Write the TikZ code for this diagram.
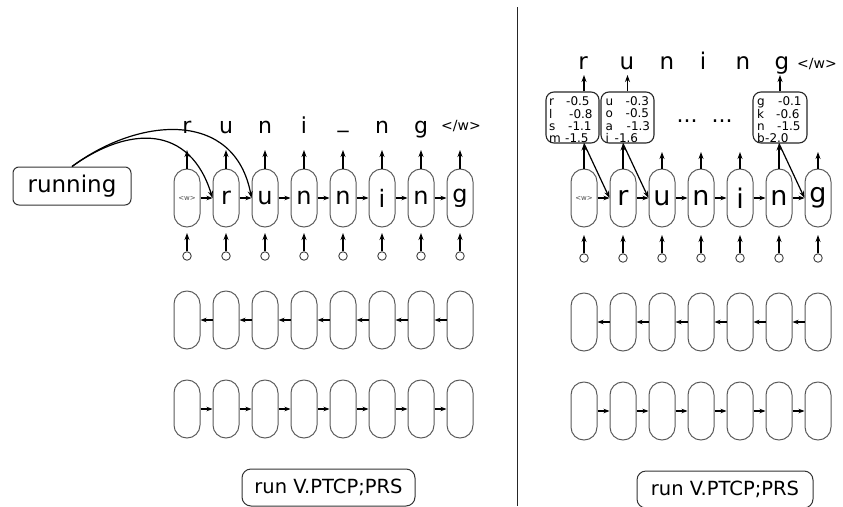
\documentclass[tikz,border=0pt]{standalone}
\usepackage{fontspec}
\setmainfont{DejaVu Sans}
\usetikzlibrary{arrows.meta,calc}
\newcommand{\pbf}{\fontsize{12}{11.2}\selectfont}
\begin{document}
\begin{tikzpicture}[x=1pt,y=-1pt,
  cell/.style={draw=black!65, line width=1pt, rounded corners=12.9pt, minimum width=26pt, minimum height=58pt, inner sep=0pt, font=\fontsize{24}{26}\selectfont},
  rcell/.style={cell, font=\fontsize{27}{30}\selectfont},
  arr/.style={-{Stealth[length=7pt,width=5pt]}, line width=1.2pt},
  harr/.style={-{Stealth[length=6pt,width=4.5pt]}, line width=1.2pt},
  inp/.style={circle, draw=black!75, line width=0.9pt, minimum size=8.5pt, inner sep=0pt},
  outl/.style={font=\fontsize{22}{26}\selectfont, anchor=base, inner sep=0pt},
  routl/.style={font=\fontsize{23}{26}\selectfont, anchor=base, inner sep=0pt},
  endl/.style={font=\fontsize{14}{16}\selectfont, anchor=base, inner sep=0pt},
  lbox/.style={draw=black!80, line width=1pt, rounded corners=8pt, inner sep=0pt},
  probbox/.style={draw=black!85, line width=1.1pt, rounded corners=8pt, minimum height=51pt, inner sep=0pt},
  probtxt/.style={anchor=north west, inner sep=0pt}
]
\useasboundingbox (0,0) rectangle (843,506);

% ---------- divider ----------
\draw[line width=1.5pt, black!85] (517.5,7) -- (517.5,506);

% ---------- helper coordinates ----------
\coordinate (ltip) at (0,150);
\coordinate (lin) at (0,233);
\coordinate (rtip) at (0,152);
\coordinate (rin) at (0,235);
\coordinate (rbtip) at (0,75);

% ================= LEFT PANEL =================
\node[cell] (L0) at (187,198) {\fontsize{7}{8}\selectfont\color{black!70}<w>};
\foreach \t [count=\i] in {r,u,n,n,i,n,g}
  \node[cell] (L\i) at ({187+39*\i},198) {\t};
\foreach \i in {0,...,6}{\pgfmathtruncatemacro\j{\i+1}
  \draw[harr] (L\i.east) -- (L\j.west);}
\foreach \i in {0,...,7}{
  \draw[arr] (L\i.north) -- (L\i.north |- ltip);
  \node[inp] (cL\i) at ({187+39*\i},256) {};
  \draw[arr] (cL\i.north) -- (cL\i.north |- lin);}
% output letters
\foreach \t [count=\i from 0] in {r,u,n,i,\raisebox{6pt}{\_},n,g}
  \node[outl] (oL\i) at ({187+39*\i},133) {\t};
\node[endl] (oL7) at (461,130) {</w>};

% middle row (backward)
\foreach \i in {0,...,7}
  \node[cell] (M\i) at ({187+39*\i},320) {};
\foreach \i in {0,...,6}{\pgfmathtruncatemacro\j{\i+1}
  \draw[harr] (M\j.west) -- (M\i.east);}
% bottom row (forward)
\foreach \i in {0,...,7}
  \node[cell] (N\i) at ({187+39*\i},409) {};
\foreach \i in {0,...,6}{\pgfmathtruncatemacro\j{\i+1}
  \draw[harr] (N\i.east) -- (N\j.west);}

% running box and copy arrows
\node[lbox, rounded corners=6pt, minimum width=118pt, minimum height=38pt, font=\fontsize{23}{26}\selectfont] (running) at (72,186) {running};
\draw[arr] (running.north) .. controls (130,125) and (190,125) .. (L1.west);
\draw[arr] (running.north) .. controls (140,116) and (235,110) .. (L2.west);

\node[lbox, rounded corners=9pt, minimum width=173pt, minimum height=37pt, font=\fontsize{19.5}{22}\selectfont] (tagL) at (328.5,487.5) {run V.PTCP;PRS};

% ================= RIGHT PANEL =================
\node[rcell] (R0) at (584,198) {\fontsize{7}{8}\selectfont\color{black!70}<w>};
\foreach \t [count=\i] in {r,u,n,i,n,g}
  \node[rcell] (R\i) at ({584+39*\i},198) {\t};
\foreach \i in {0,...,5}{\pgfmathtruncatemacro\j{\i+1}
  \draw[harr] (R\i.east) -- (R\j.west);}
\foreach \i in {0,...,6}{
  \node[inp] (cR\i) at ({584+39*\i},258) {};
  \draw[arr] (cR\i.north) -- (cR\i.north |- rin);}

% probability boxes
\node[probbox, minimum width=53pt] (B1) at (572.5,117.5) {};
\node[probbox, minimum width=53pt] (B2) at (627.5,117.5) {};
\node[probbox, minimum width=54pt] (B3) at (780,117.5) {};
\node[probtxt] (T1) at (549,96.5)
  {\pbf\begin{tabular}{@{}l@{}}\makebox[17pt][l]{r}-0.5\\\makebox[20pt][l]{l}-0.8\\\makebox[19pt][l]{s}-1.1\\\makebox[16pt][l]{m}-1.5\end{tabular}};
\node[probtxt] (T2) at (605.5,96.5)
  {\pbf\begin{tabular}{@{}l@{}}\makebox[20pt][l]{u}-0.3\\\makebox[20pt][l]{o}-0.5\\\makebox[21pt][l]{a}-1.3\\\makebox[9pt][l]{i}-1.6\end{tabular}};
\node[probtxt] (T3) at (757,96.5)
  {\pbf\begin{tabular}{@{}l@{}}\makebox[21pt][l]{g}-0.1\\\makebox[19pt][l]{k}-0.6\\\makebox[20pt][l]{n}-1.5\\\makebox[8pt][l]{b}-2.0\end{tabular}};

% vertical arrows from cells
\draw[arr] (R0.north) -- (R0.north |- B1.south);
\draw[arr] (R1.north) -- (R1.north |- B2.south);
\draw[arr] (R5.north) -- (R5.north |- B3.south);
\foreach \i in {2,3,4,6}
  \draw[arr] (R\i.north) -- (R\i.north |- rtip);
% diagonal feedback arrows
\draw[arr] (R0.north |- B1.south) -- (R1.west);
\draw[arr] (R1.north |- B2.south) -- (R2.west);
\draw[arr] (R5.north |- B3.south) -- (R6.west);

% output letters
\node[routl] (oR0) at (583,69) {r};
\node[routl] (oR1) at (627,69) {u};
\node[routl] (oR2) at (667,69) {n};
\node[routl] (oR3) at (703,69) {i};
\node[routl] (oR4) at (743,69) {n};
\node[routl] (oR5) at (782,69) {g};
\node[endl] (oR6) at (817,68) {</w>};
\draw[arr] (R0.north |- B1.north) -- (R0.north |- rbtip);
\draw[arr] (B2.north) -- (B2.north |- rbtip);
\draw[arr] (B3.north) -- (B3.north |- rbtip);

\node[font=\fontsize{22}{24}\selectfont, anchor=base, inner sep=0pt] (dots1) at (687,122) {...};
\node[font=\fontsize{22}{24}\selectfont, anchor=base, inner sep=0pt] (dots2) at (722,122) {...};

% middle row (backward)
\foreach \i in {0,...,6}
  \node[cell] (RM\i) at ({584+39*\i},322) {};
\foreach \i in {0,...,5}{\pgfmathtruncatemacro\j{\i+1}
  \draw[harr] (RM\j.west) -- (RM\i.east);}
% bottom row (forward)
\foreach \i in {0,...,6}
  \node[cell] (RN\i) at ({584+39*\i},411) {};
\foreach \i in {0,...,5}{\pgfmathtruncatemacro\j{\i+1}
  \draw[harr] (RN\i.east) -- (RN\j.west);}

\node[lbox, rounded corners=9pt, minimum width=176pt, minimum height=37pt, font=\fontsize{19.5}{22}\selectfont] (tagR) at (725,489.5) {run V.PTCP;PRS};
\end{tikzpicture}
\end{document}
